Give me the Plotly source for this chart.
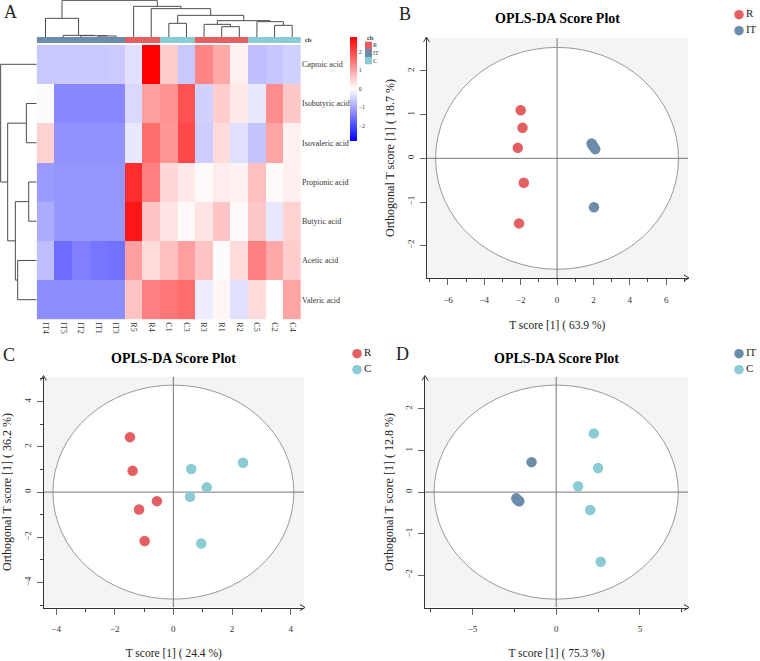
import plotly.graph_objects as go

WIDTH = 760
HEIGHT = 661
SERIF = "Liberation Serif"

RED = "#e35f62"
BLUE = "#6b8cab"
TEAL = "#8acbd4"
GROUP_COLORS = {"R": RED, "IT": BLUE, "C": TEAL}

# heatmap data
columns = ["IT4", "IT5", "IT2", "IT1", "IT3", "R5", "R4", "C1", "C3", "R3", "R1", "R2", "C5", "C2", "C4"]
column_groups = ["IT"] * 5 + ["R", "R", "C", "C", "R", "R", "R", "C", "C", "C"]
acids = ["Caproic acid", "Isobutyric acid", "Isovaleric acid", "Propionic acid",
         "Butyric acid", "Acetic acid", "Valeric acid"]
caproic = [-0.6, -0.6, -0.6, -0.6, -0.58, -0.33, 2.8, 0.55, -0.6, 1.35, 0.95, 0.17, -0.7, -0.62, -0.5]
isobutyric = [-0.03, -1.3, -1.3, -1.3, -1.3, -0.42, 1.05, 1.2, 1.9, -0.5, 0.55, 0.25, -0.25, 1.25, 0.6]
isovaleric = [0.5, -1.2, -1.2, -1.2, -1.2, -0.25, 1.6, 1.15, 2.0, -0.55, 0.4, -0.35, -0.65, 1.0, 0.15]
propionic = [-1.1, -1.15, -1.15, -1.15, -1.15, 2.3, 1.4, 0.45, 0.25, 0.05, 0.2, 0.15, 0.7, 0.05, 0.18]
butyric = [-0.9, -1.15, -1.15, -1.15, -1.15, 2.55, 0.65, 0.3, 0.05, 0.3, 0.65, 0.07, 0.6, -0.25, 0.5]
acetic = [-0.7, -1.6, -1.4, -1.5, -1.55, 1.05, 0.4, 0.7, 1.05, 0.65, -0.03, 0.38, 1.4, 0.95, 0.55]
valeric = [-1.25, -1.25, -1.25, -1.25, -1.25, 0.65, 1.4, 1.5, 1.6, -0.2, 0.1, -0.33, 0.4, 0.0, 1.0]
heat_values = [caproic, isobutyric, isovaleric, propionic, butyric, acetic, valeric]
colorbar_ticks = [-2, -1, 0, 1, 2]

# dendrograms as nested (height, left, right)
column_tree = (110, (56, "IT4", (5, "IT5", (4, "IT2", (3, "IT1", "IT3")))),
               (92, "R5", (85, "R4", (65, (41, "C1", "C3"),
                                      (49, (38, "R3", (31, "R1", "R2")),
                                       (46, "C5", (35, "C2", "C4")))))))
row_tree = (108, "Caproic acid",
            (87, (31, "Isobutyric acid", "Isovaleric acid"),
             (64, (24, "Propionic acid", "Butyric acid"), (57, "Acetic acid", "Valeric acid"))))

# score plots
b_r_x = [-2.0, -1.9, -2.16, -1.83, -2.09]
b_r_y = [1.10, 0.70, 0.24, -0.56, -1.49]
b_it_x = [1.9, 1.95, 2.02, 2.1, 2.03]
b_it_y = [0.34, 0.30, 0.26, 0.21, -1.12]
c_r_x = [-1.48, -1.39, -0.56, -1.17, -0.98]
c_r_y = [2.43, 0.94, -0.40, -0.77, -2.16]
c_c_x = [2.375, 0.61, 1.14, 0.57, 0.95]
c_c_y = [1.30, 1.02, 0.21, -0.21, -2.27]
d_it_x = [-1.47, -2.38, -2.33, -2.27, -2.2]
d_it_y = [0.72, -0.15, -0.18, -0.20, -0.22]
d_c_x = [2.25, 2.5, 1.31, 2.03, 2.66]
d_c_y = [1.41, 0.58, 0.14, -0.43, -1.67]

panels = [
    dict(letter="B", box=(426.5, 688, 38, 278), xrange=(-7.18, 7.2), yrange=(-2.74, 2.755), ellipse=(6.68, 2.54),
         xdtick=2, xminor=1, ydtick=1, yminor=None, xtitle="T score [1] ( 63.9 %)", xstandoff=17,
         ytitle="Orthogonal T score [1] ( 18.7 %)", key_xy=(739, 14.7),
         series=[("R", b_r_x, b_r_y), ("IT", b_it_x, b_it_y)]),
    dict(letter="C", box=(43.5, 304, 376.5, 607.5), xrange=(-4.43, 4.456), yrange=(-5.1, 5.11), ellipse=(4.11, 4.73),
         xdtick=2, xminor=1, ydtick=2, yminor=1, xtitle="T score [1] ( 24.4 %)", xstandoff=15,
         ytitle="Orthogonal T score [1] ( 36.2 %)", key_xy=(357, 353.7),
         series=[("R", c_r_x, c_r_y), ("C", c_c_x, c_c_y)]),
    dict(letter="D", box=(425, 688, 376.5, 607.5), xrange=(-7.83, 7.87), yrange=(-2.77, 2.776), ellipse=(7.29, 2.57),
         xdtick=5, xminor=2.5, ydtick=1, yminor=None, xtitle="T score [1] ( 75.3 %)", xstandoff=15,
         ytitle="Orthogonal T score [1] ( 12.8 %)", key_xy=(739, 353.7),
         series=[("IT", d_it_x, d_it_y), ("C", d_c_x, d_c_y)]),
]


def px_x(left, right):
    return [left / WIDTH, right / WIDTH]


def px_y(top, bottom):
    return [1 - bottom / HEIGHT, 1 - top / HEIGHT]


def tree_lines(node, leaf_pos, pos_out, height_out):
    # returns (position, height) of the node and collects the elbow segments
    if isinstance(node, str):
        return leaf_pos[node], 0
    height, left, right = node
    lp, lh = tree_lines(left, leaf_pos, pos_out, height_out)
    rp, rh = tree_lines(right, leaf_pos, pos_out, height_out)
    pos_out += [lp, lp, rp, rp, None]
    height_out += [lh, height, height, rh, None]
    return (lp + rp) / 2, height


fig = go.Figure()
layout = {}
shapes = []
annotations = []


def text(x, y, s, size, bold=False, color="#000000", angle=0, xanchor="center"):
    annotations.append(dict(x=x / WIDTH, y=1 - y / HEIGHT, xref="paper", yref="paper", text=f"<b>{s}</b>" if bold else s,
                            showarrow=False, xanchor=xanchor, yanchor="middle", textangle=angle,
                            font=dict(family=SERIF, size=size, color=color)))


HIDDEN = dict(visible=False, showgrid=False, zeroline=False)
n_cols = len(columns)
n_rows = len(acids)
col_range = [-0.5, n_cols - 0.5]
row_range = [n_rows - 0.5, -0.5]

# main heatmap
fig.add_trace(go.Heatmap(
    z=heat_values, x=list(range(n_cols)), y=list(range(n_rows)), xaxis="x", yaxis="y",
    colorscale=[[0, "#0000ff"], [0.5, "#ffffff"], [1, "#ff0000"]], zmin=-2.8, zmax=2.8, hoverongaps=False,
    colorbar=dict(x=350 / WIDTH, xanchor="left", xpad=0, ypad=0, y=1 - 36.7 / HEIGHT, yanchor="top",
                  thickness=7, thicknessmode="pixels", len=104, lenmode="pixels", outlinewidth=0,
                  tickvals=colorbar_ticks, ticks="", ticklabelposition="outside",
                  tickfont=dict(family=SERIF, size=6, color="#333333")),
))
layout["xaxis"] = dict(domain=px_x(36.7, 301), range=col_range, anchor="y", tickvals=list(range(n_cols)), ticktext=columns,
                       tickangle=90, ticks="", showgrid=False, zeroline=False, ticklabelstandoff=2,
                       tickfont=dict(family=SERIF, size=8, color="#333333"))
layout["yaxis"] = dict(domain=px_y(44.7, 319.3), range=row_range, anchor="x", side="right", tickvals=list(range(n_rows)),
                       ticktext=acids, ticks="", showgrid=False, zeroline=False,
                       tickfont=dict(family=SERIF, size=8, color="#333333"))

# group annotation bar
group_names = list(GROUP_COLORS)
group_scale = [[i / 2, GROUP_COLORS[g]] for i, g in enumerate(group_names)]
fig.add_trace(go.Heatmap(z=[[group_names.index(g) for g in column_groups]], x=list(range(n_cols)), xaxis="x2", yaxis="y2",
                         colorscale=group_scale, zmin=0, zmax=2, showscale=False))
layout["xaxis2"] = dict(domain=px_x(36.7, 301), range=col_range, anchor="y2", **HIDDEN)
layout["yaxis2"] = dict(domain=px_y(37, 43), anchor="x2", **HIDDEN)

# top dendrogram
col_pos, col_height = [], []
tree_lines(column_tree, {c: i for i, c in enumerate(columns)}, col_pos, col_height)
fig.add_trace(go.Scatter(x=col_pos, y=col_height, xaxis="x3", yaxis="y3", mode="lines", showlegend=False,
                         line=dict(color="#4d4d4d", width=1)))
layout["xaxis3"] = dict(domain=px_x(36.7, 301), range=col_range, anchor="y3", **HIDDEN)
layout["yaxis3"] = dict(domain=px_y(0, 37), range=[0, 111], anchor="x3", **HIDDEN)

# left dendrogram
row_pos, row_height = [], []
tree_lines(row_tree, {a: i for i, a in enumerate(acids)}, row_pos, row_height)
fig.add_trace(go.Scatter(x=row_height, y=row_pos, xaxis="x4", yaxis="y4", mode="lines", showlegend=False,
                         line=dict(color="#4d4d4d", width=1)))
layout["xaxis4"] = dict(domain=px_x(0, 36.7), range=[110, 0], anchor="y4", **HIDDEN)
layout["yaxis4"] = dict(domain=px_y(44.7, 319.3), range=row_range, anchor="x4", **HIDDEN)

# group key next to the colour bar
fig.add_trace(go.Heatmap(z=[[i] for i in range(3)], y=group_names, xaxis="x5", yaxis="y5",
                         colorscale=group_scale, zmin=0, zmax=2, showscale=False))
layout["xaxis5"] = dict(domain=px_x(365, 372), anchor="y5", **HIDDEN)
layout["yaxis5"] = dict(domain=px_y(41.5, 64.5), autorange="reversed", anchor="x5", side="right", ticks="", showgrid=False,
                        zeroline=False, tickfont=dict(family=SERIF, size=6, color="#333333"))
text(303, 40, "cls", 6, bold=True, color="#333333", xanchor="left")
text(365, 38, "cls", 6, bold=True, color="#333333", xanchor="left")

# score plots
for i, panel in enumerate(panels):
    n = i + 6
    xa, ya = f"x{n}", f"y{n}"
    left, right, top, bottom = panel["box"]
    rx, ry = panel["ellipse"]
    x0, x1 = panel["xrange"]
    y0, y1 = panel["yrange"]
    for group, xs, ys in panel["series"]:
        fig.add_trace(go.Scatter(x=xs, y=ys, xaxis=xa, yaxis=ya, mode="markers", name=group, showlegend=False,
                                 marker=dict(color=GROUP_COLORS[group], size=10.5)))
    tick_font = dict(family=SERIF, size=9, color="#333333")
    layout[f"xaxis{n}"] = dict(domain=px_x(left, right), range=panel["xrange"], anchor=ya, dtick=panel["xdtick"], tick0=0,
                               ticks="outside", ticklen=6, tickcolor="#666666", showline=True, linecolor="#333333",
                               showgrid=False, zeroline=False, tickfont=tick_font, ticklabelstandoff=7,
                               minor=dict(dtick=panel["xminor"], tick0=0, ticks="outside", ticklen=3, tickcolor="#444444", showgrid=False),
                               title=dict(text=panel["xtitle"], font=dict(family=SERIF, size=11.5, color="#222222"),
                                          standoff=panel["xstandoff"]))
    y_minor = dict(dtick=panel["yminor"], tick0=0, ticks="outside", ticklen=3, tickcolor="#444444", showgrid=False) if panel["yminor"] else {}
    layout[f"yaxis{n}"] = dict(domain=px_y(top, bottom), range=panel["yrange"], anchor=xa, dtick=panel["ydtick"], tick0=0,
                               ticks="outside", ticklen=6, tickcolor="#666666", showline=True, linecolor="#333333",
                               showgrid=False, zeroline=False, tickfont=tick_font, tickangle=-90, ticklabelstandoff=2,
                               minor=y_minor, title=dict(text=panel["ytitle"], font=dict(family=SERIF, size=12, color="#222222"), standoff=8))

    # grey panel, white ellipse and the zero cross, all on the panel's own axes
    shapes.append(dict(type="rect", xref=xa, yref=ya, x0=x0, x1=x1, y0=y0, y1=y1,
                       fillcolor="#f4f4f4", line_width=0, layer="below"))
    shapes.append(dict(type="circle", xref=xa, yref=ya, x0=-rx, x1=rx, y0=-ry, y1=ry, fillcolor="#ffffff",
                       line=dict(color="#999999", width=1), layer="below"))
    shapes.append(dict(type="line", xref=xa, yref=ya, x0=x0, x1=x1, y0=0, y1=0,
                       line=dict(color="#777777", width=1), layer="below"))
    shapes.append(dict(type="line", xref=xa, yref=ya, x0=0, x1=0, y0=y0, y1=y1,
                       line=dict(color="#777777", width=1), layer="below"))

    # axis arrow heads
    for dx, dy in [(-5, 3), (-5, -3)]:
        shapes.append(dict(type="line", xref="paper", yref="paper", xsizemode="pixel", ysizemode="pixel",
                           xanchor=(right + 1) / WIDTH, yanchor=1 - bottom / HEIGHT, x0=0, y0=0, x1=dx, y1=dy,
                           line=dict(color="#333333", width=1)))
        shapes.append(dict(type="line", xref="paper", yref="paper", xsizemode="pixel", ysizemode="pixel",
                           xanchor=left / WIDTH, yanchor=1 - (top - 1) / HEIGHT, x0=0, y0=0, x1=dy, y1=dx,
                           line=dict(color="#333333", width=1)))

    # group key at the right of the panel
    key_x, key_y = panel["key_xy"]
    k = n + 3
    names = [s[0] for s in panel["series"]]
    fig.add_trace(go.Scatter(x=[0, 0], y=[0, 1], xaxis=f"x{k}", yaxis=f"y{k}", mode="markers+text", text=names,
                             textposition="middle right", showlegend=False, cliponaxis=False,
                             textfont=dict(family=SERIF, size=11, color="#222222"),
                             marker=dict(color=[GROUP_COLORS[g] for g in names], size=9.5)))
    layout[f"xaxis{k}"] = dict(domain=px_x(key_x - 5, key_x + 5), range=[-1, 1], anchor=f"y{k}", **HIDDEN)
    layout[f"yaxis{k}"] = dict(domain=px_y(key_y - 8, key_y + 24), range=[1.5, -0.5], anchor=f"x{k}", **HIDDEN)

text(557, 19, "OPLS-DA Score Plot", 14, bold=True)
text(173, 358, "OPLS-DA Score Plot", 14, bold=True)
text(556, 358, "OPLS-DA Score Plot", 14, bold=True)
text(10, 12, "A", 18, color="#222222")
text(405, 14, "B", 18, color="#222222")
text(9, 355, "C", 18, color="#222222")
text(402, 354, "D", 18, color="#222222")

fig.update_layout(width=WIDTH, height=HEIGHT, margin=dict(l=0, r=0, t=0, b=0, autoexpand=False), paper_bgcolor="#ffffff",
                  plot_bgcolor="rgba(0,0,0,0)", showlegend=False, shapes=shapes, annotations=annotations, **layout)
fig.write_html("out.html", config={"displayModeBar": False}, post_script="document.body.style.margin='0';")
